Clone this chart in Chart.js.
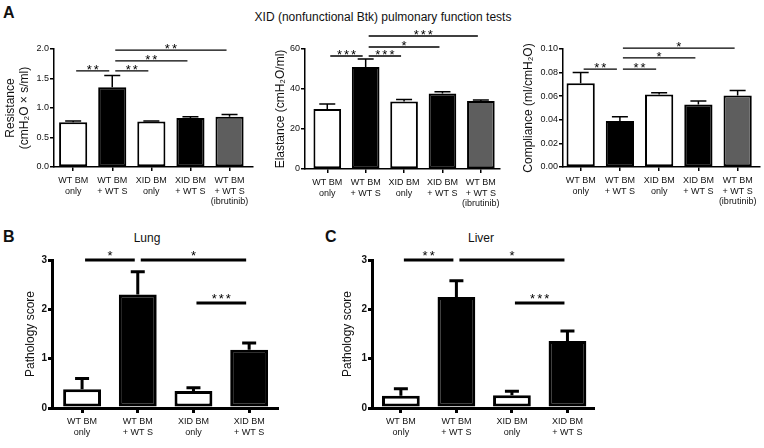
<!DOCTYPE html>
<html>
<head>
<meta charset="utf-8">
<script src="https://cdn.jsdelivr.net/npm/chart.js@4"></script>
<style>
  body { margin: 0; width: 764px; height: 448px; position: relative; background: #fff; overflow: hidden;
         font-family: "Liberation Sans", Arial, sans-serif; color: #111; }
  canvas { position: absolute; }
  .txt { position: absolute; white-space: nowrap; line-height: 14px; }
  .panel { font-weight: bold; font-size: 16px; line-height: 16px; }
  .center { transform: translateX(-50%); font-size: 12px; }
</style>
</head>
<body>
<div class="txt panel" style="left:3px;top:5px">A</div>
<div class="txt center" style="left:383px;top:10px">XID (nonfunctional Btk) pulmonary function tests</div>
<div class="txt panel" style="left:3px;top:229px">B</div>
<div class="txt panel" style="left:325px;top:229px">C</div>
<div class="txt center" style="left:147px;top:231px">Lung</div>
<div class="txt center" style="left:481px;top:231px">Liver</div>

<canvas id="resistance" width="258" height="202" style="left:0;top:28px"></canvas>
<canvas id="elastance" width="242" height="202" style="left:262px;top:28px"></canvas>
<canvas id="compliance" width="258" height="202" style="left:506px;top:28px"></canvas>
<canvas id="lung" width="290" height="220" style="left:0;top:228px"></canvas>
<canvas id="liver" width="275" height="220" style="left:325px;top:228px"></canvas>

<script>
// group labels
const groupsA = [["WT BM", "only"], ["WT BM", "+ WT S"], ["XID BM", "only"], ["XID BM", "+ WT S"], ["WT BM", "+ WT S", "(ibrutinib)"]];
const groupsB = groupsA.slice(0, 4);
const fillA = ["#ffffff", "#000000", "#ffffff", "#000000", "#5e5e5e"];
const fillB = ["#ffffff", "#000000", "#ffffff", "#000000"];

// bar heights (mean) and top of the error bar (mean + SEM)
const resistanceMean = [0.76, 1.35, 0.77, 0.83, 0.85];
const resistanceErr  = [0.78, 1.55, 0.78, 0.85, 0.89];
const elastanceMean  = [30, 51, 33.7, 37.8, 34];
const elastanceErr   = [32.5, 55, 34.8, 38.6, 34.5];
const complianceMean = [0.071, 0.039, 0.0615, 0.053, 0.0605];
const complianceErr  = [0.080, 0.0425, 0.063, 0.056, 0.0648];
const lungMean  = [0.38, 2.3, 0.345, 1.18];
const lungErr   = [0.60, 2.76, 0.41, 1.32];
const liverMean = [0.25, 2.25, 0.26, 1.36];
const liverErr  = [0.39, 2.58, 0.34, 1.56];

// significance bars: [from group, to group, height in axis units, stars]
const resistanceSig = [[0, 1, 1.63, "**"], [1, 2, 1.63, "**"], [1, 3, 1.80, "**"], [1, 4, 1.98, "**"]];
const elastanceSig  = [[0, 1, 56.5, "***"], [1, 2, 56.5, "***"], [1, 3, 61, "*"], [1, 4, 66.5, "***"]];
const complianceSig = [[0, 1, 0.083, "**"], [1, 2, 0.083, "**"], [1, 3, 0.0924, "*"], [1, 4, 0.1008, "*"]];
const lungSig  = [[0, 1, 3.0, "*"], [1, 3, 3.0, "*"], [2, 3, 2.13, "***"]];
const liverSig = [[0, 1, 3.0, "**"], [1, 3, 3.0, "*"], [2, 3, 2.13, "***"]];

// look of the small top panels vs the bigger bottom ones
const thin  = { lw: 1.5, barLw: 2, barPct: 0.72, capW: 16, sigW: 1.3, starDrop: 3, tickFont: { size: 9 }, xTick: 4, xPad: 4 };
const thick = { lw: 3, barLw: 3, barPct: 0.68, capW: 14, sigW: 3, starDrop: 0, tickFont: { size: 10, weight: "bold" }, xTick: 5, xPad: 3 };

const panels = [
  { id: "resistance", labels: groupsA, mean: resistanceMean, err: resistanceErr, fill: fillA, sig: resistanceSig,
    yMax: 2, yStep: 0.5, dec: 1, yTitle: ["Resistance", "(cmH\u2082O \u00d7 s/ml)"], titlePad: 3,
    xMin: -0.49, xMax: 4.6, yW: 54, xH: 63, padTop: 21, padRight: 5, ...thin },
  { id: "elastance", labels: groupsA, mean: elastanceMean, err: elastanceErr, fill: fillA, sig: elastanceSig,
    yMax: 60, yStep: 20, dec: 0, yTitle: "Elastance (cmH\u2082O/ml)", titlePad: 11,
    xMin: -0.58, xMax: 4.48, yW: 43, xH: 61, padTop: 21, padRight: 4, ...thin },
  { id: "compliance", labels: groupsA, mean: complianceMean, err: complianceErr, fill: fillA, sig: complianceSig,
    yMax: 0.1, yStep: 0.02, dec: 2, yTitle: "Compliance (ml/cmH\u2082O)", titlePad: 15,
    xMin: -0.45, xMax: 4.57, yW: 57, xH: 63, padTop: 21, padRight: 4, ...thin },
  { id: "lung", labels: groupsB, mean: lungMean, err: lungErr, fill: fillB, sig: lungSig,
    yMax: 3, yStep: 1, dec: 0, yTitle: "Pathology score", titlePad: 23,
    xMin: -0.54, xMax: 3.5, yW: 52, xH: 40, padTop: 32, padRight: 13, ...thick },
  { id: "liver", labels: groupsB, mean: liverMean, err: liverErr, fill: fillB, sig: liverSig,
    yMax: 3, yStep: 1, dec: 0, yTitle: "Pathology score", titlePad: 15,
    xMin: -0.52, xMax: 3.46, yW: 47, xH: 40, padTop: 32, padRight: 7, ...thick },
];

// error bars + significance lines, drawn from the chart's own scales
function annotations(p) {
  return {
    id: "annot_" + p.id,
    afterDatasetsDraw(chart) {
      const { ctx, scales: { x, y } } = chart;
      ctx.save();
      ctx.strokeStyle = "#000";
      ctx.lineWidth = p.lw;
      p.err.forEach((e, i) => {
        const cx = x.getPixelForValue(i);
        const top = y.getPixelForValue(p.mean[i]);
        const ey = y.getPixelForValue(e);
        ctx.beginPath();
        ctx.moveTo(cx, top);
        ctx.lineTo(cx, ey);
        ctx.moveTo(cx - p.capW / 2, ey);
        ctx.lineTo(cx + p.capW / 2, ey);
        ctx.stroke();
      });
      ctx.restore();
    },
    afterDraw(chart) {
      const { ctx, scales: { x, y } } = chart;
      ctx.save();
      ctx.strokeStyle = "#000";
      ctx.fillStyle = "#000";
      ctx.lineWidth = p.sigW;
      ctx.font = '13px "Liberation Sans", Arial, sans-serif';
      ctx.letterSpacing = "2px";
      ctx.textAlign = "center";
      ctx.textBaseline = "alphabetic";
      p.sig.forEach(([a, b, h, stars]) => {
        const x1 = x.getPixelForValue(a) + 3;
        const x2 = x.getPixelForValue(b) - 3;
        const yy = y.getPixelForValue(h);
        ctx.beginPath();
        ctx.moveTo(x1, yy);
        ctx.lineTo(x2, yy);
        ctx.stroke();
        ctx.fillText(stars, (x1 + x2) / 2 + 1, yy + p.starDrop);
      });
      ctx.letterSpacing = "0px";
      ctx.restore();
    }
  };
}

function buildChart(p) {
  return new Chart(document.getElementById(p.id), {
    type: "bar",
    data: {
      datasets: [{
        data: p.mean.map((v, i) => ({ x: i, y: v })),
        backgroundColor: p.fill,
        borderColor: "#000",
        borderWidth: p.barLw,
        borderSkipped: false,
        barPercentage: p.barPct,
        categoryPercentage: 1
      }]
    },
    options: {
      responsive: false,
      animation: false,
      events: [],
      layout: { padding: { top: p.padTop, right: p.padRight, left: 0, bottom: 0 } },
      plugins: { legend: { display: false }, tooltip: { enabled: false } },
      scales: {
        x: {
          type: "linear",
          offset: false,
          min: p.xMin,
          max: p.xMax,
          grid: { offset: false, drawOnChartArea: false, tickLength: p.xTick, lineWidth: p.lw, color: "#000" },
          border: { color: "#000", width: p.lw },
          afterBuildTicks: s => { s.ticks = p.labels.map((_, i) => ({ value: i })); },
          afterFit: s => { s.height = p.xH; },
          ticks: {
            autoSkip: false, maxRotation: 0, minRotation: 0, padding: p.xPad,
            color: "#111", font: { size: 9 },
            callback: (v, i) => p.labels[i]
          }
        },
        y: {
          min: 0,
          max: p.yMax,
          grid: { drawOnChartArea: false, tickLength: 4, lineWidth: p.lw, color: "#000" },
          border: { color: "#000", width: p.lw },
          afterFit: s => { s.width = p.yW; },
          ticks: { stepSize: p.yStep, padding: 1, color: "#111", font: p.tickFont,
                   callback: v => Number(v).toFixed(p.dec) },
          title: { display: true, text: p.yTitle, color: "#111", font: { size: 12 },
                   padding: { top: p.titlePad, bottom: 0 } }
        }
      }
    },
    plugins: [annotations(p)]
  });
}

panels.forEach(buildChart);
</script>
</body>
</html>
